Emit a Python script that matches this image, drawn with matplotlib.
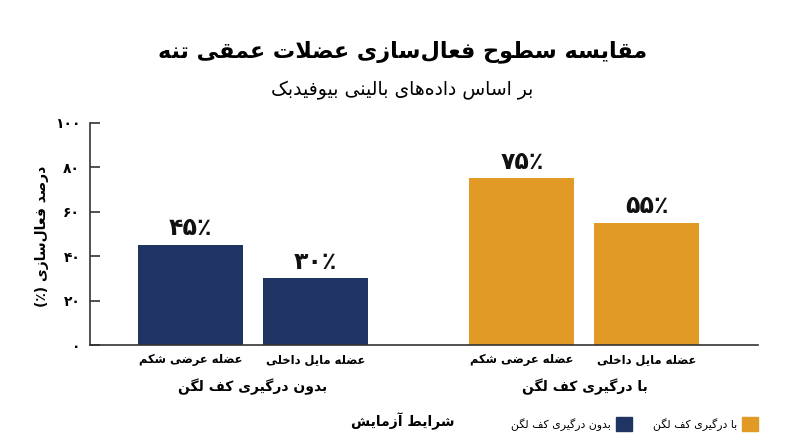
import matplotlib
matplotlib.use('Agg')
import matplotlib.pyplot as plt
from matplotlib.patches import Patch

plt.rcParams['font.family'] = ['DejaVu Sans']

# داده‌ها
title = 'مقایسه سطوح فعال‌سازی عضلات عمقی تنه'
subtitle = 'بر اساس داده‌های بالینی بیوفیدبک'
groups = ['بدون درگیری کف لگن', 'با درگیری کف لگن']
muscles = ['عضله عرضی شکم', 'عضله مایل داخلی']
values = [[45, 30], [75, 55]]
value_labels = [['۴۵٪', '۳۰٪'], ['۷۵٪', '۵۵٪']]
y_ticks = [0, 20, 40, 60, 80, 100]
y_tick_labels = ['۰', '۲۰', '۴۰', '۶۰', '۸۰', '۱۰۰']
y_label = 'درصد فعال‌سازی (٪)'
x_label = 'شرایط آزمایش'
colors = ['#1f3462', '#e09a25']


# matplotlib متن فارسی را شکل نمی‌دهد، پس حروف را دستی به شکل‌های نمایشی می‌بریم
def d(b):
    return (b, b + 1, b + 2, b + 3)

FORMS = {
    'ا': (0xFE8D, 0xFE8E), 'آ': (0xFE81, 0xFE82),
    'د': (0xFEA9, 0xFEAA), 'ذ': (0xFEAB, 0xFEAC),
    'ر': (0xFEAD, 0xFEAE), 'ز': (0xFEAF, 0xFEB0),
    'ژ': (0xFB8A, 0xFB8B), 'و': (0xFEED, 0xFEEE),
    'ب': d(0xFE8F), 'پ': d(0xFB56), 'ت': d(0xFE95), 'ث': d(0xFE99),
    'ج': d(0xFE9D), 'چ': d(0xFB7A), 'ح': d(0xFEA1), 'خ': d(0xFEA5),
    'س': d(0xFEB1), 'ش': d(0xFEB5), 'ص': d(0xFEB9), 'ض': d(0xFEBD),
    'ط': d(0xFEC1), 'ظ': d(0xFEC5), 'ع': d(0xFEC9), 'غ': d(0xFECD),
    'ف': d(0xFED1), 'ق': d(0xFED5), 'ک': d(0xFB8E), 'گ': d(0xFB92),
    'ل': d(0xFEDD), 'م': d(0xFEE1), 'ن': d(0xFEE5), 'ه': d(0xFEE9),
    'ی': d(0xFBFC),
}
MIRROR = {'(': ')', ')': '('}


def fa(text):
    chars = list(text)
    n = len(chars)
    out = []
    i = 0
    while i < n:
        c = chars[i]
        if c == '\u200c':
            i += 1
            continue
        if c not in FORMS:
            out.append(MIRROR.get(c, c))
            i += 1
            continue
        prev = chars[i - 1] if i > 0 else ''
        after_prev = prev in FORMS and len(FORMS[prev]) == 4
        if c == 'ل' and i + 1 < n and chars[i + 1] in 'اآ':
            lig = (0xFEFB, 0xFEFC) if chars[i + 1] == 'ا' else (0xFEF5, 0xFEF6)
            out.append(chr(lig[1] if after_prev else lig[0]))
            i += 2
            continue
        nxt = chars[i + 1] if i + 1 < n else ''
        f = FORMS[c]
        to_next = len(f) == 4 and nxt in FORMS
        if after_prev and to_next:
            g = f[3]
        elif after_prev:
            g = f[1]
        elif to_next:
            g = f[2]
        else:
            g = f[0]
        out.append(chr(g))
        i += 1
    return ''.join(reversed(out))


fig = plt.figure(figsize=(8, 4.47), dpi=100)
ax = fig.add_axes([90 / 800, 1 - 345 / 447, (758 - 90) / 800, (345 - 123) / 447])

group_x = [0.595, 3.752]
offset = 0.595
tick_pos = []
tick_lab = []
for gi in range(len(groups)):
    for mi in range(len(muscles)):
        x = group_x[gi] + (2 * mi - 1) * offset
        ax.bar(x, values[gi][mi], width=1.0, color=colors[gi], zorder=2)
        ax.text(x, values[gi][mi] + 2.2, value_labels[gi][mi], ha='center', va='bottom',
                fontsize=17, fontweight='bold', color='#111111')
        tick_pos.append(x)
        tick_lab.append(fa(muscles[mi]))
    ax.text(group_x[gi], -0.19, fa(groups[gi]), transform=ax.get_xaxis_transform(),
            ha='center', va='center', fontsize=10, fontweight='bold')

ax.set_xlim(-0.957, 5.405)
ax.set_ylim(0, 100)
ax.set_xticks(tick_pos, tick_lab, fontsize=8.3, fontweight='bold')
ax.set_yticks(y_ticks, y_tick_labels, fontsize=10, fontweight='bold')
ax.tick_params(axis='x', length=0, pad=6)
ax.tick_params(axis='y', direction='in', length=7, width=1.2, pad=7, color='#333333')

for s in ['top', 'right']:
    ax.spines[s].set_visible(False)
for s in ['left', 'bottom']:
    ax.spines[s].set_color('#333333')
    ax.spines[s].set_linewidth(1.2)

fig.text(403 / 800, 1 - 52 / 447, fa(title), ha='center', va='center', fontsize=16, fontweight='bold')
fig.text(402 / 800, 1 - 90 / 447, fa(subtitle), ha='center', va='center', fontsize=13.5)
fig.text(42 / 800, 1 - 236 / 447, fa(y_label), rotation=90, ha='center', va='center',
         fontsize=10, fontweight='bold')
fig.text(403 / 800, 1 - 421 / 447, fa(x_label), ha='center', va='center', fontsize=10, fontweight='bold')

handles = [Patch(color=colors[0], label=fa(groups[0])), Patch(color=colors[1], label=fa(groups[1]))]
fig.legend(handles=handles, ncol=2, markerfirst=False, frameon=False, fontsize=7.8,
           loc='center right', bbox_to_anchor=(758 / 800, 1 - 424 / 447),
           borderpad=0, borderaxespad=0, handlelength=1.45, handleheight=1.65,
           handletextpad=0.45, columnspacing=2.0)

fig.savefig('out.png', dpi=100)
